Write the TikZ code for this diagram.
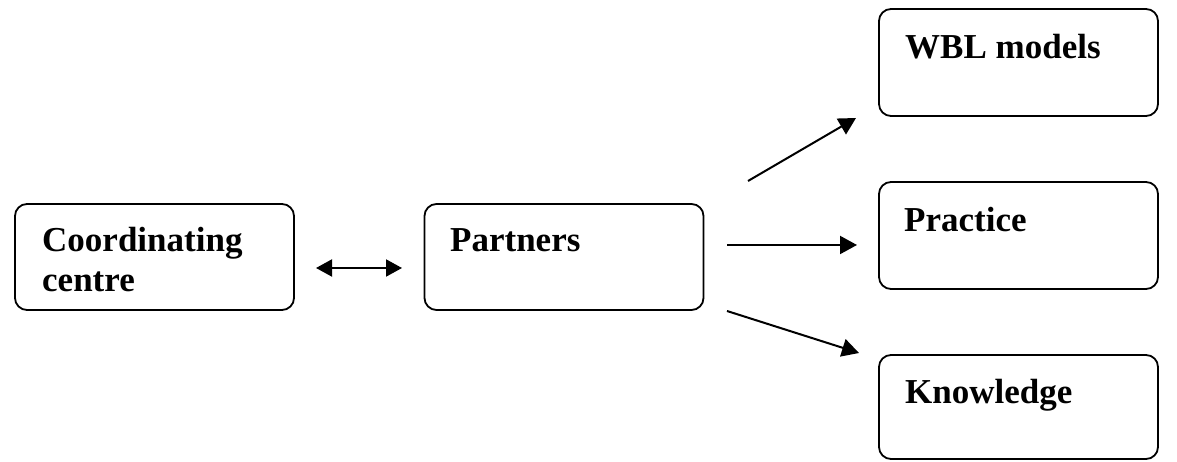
\documentclass[tikz,border=0pt]{standalone}
\usepackage{fontspec}
\setmainfont{Liberation Serif}
\usetikzlibrary{arrows.meta}
\tikzset{
  box/.style={draw, line width=1.8pt, rounded corners=12pt, minimum width=279pt, minimum height=106pt, inner sep=0pt},
  lbl/.style={anchor=base west, inner sep=0pt, font=\fontsize{35}{40}\selectfont\bfseries, align=left},
  arr/.style={line width=2pt, -{Triangle[length=17pt,width=18pt]}},
  darr/.style={line width=2pt, {Triangle[length=16pt,width=17pt]}-{Triangle[length=16pt,width=17pt]}}
}
\begin{document}
\begin{tikzpicture}[x=1pt,y=1pt]
\useasboundingbox (0,0) rectangle (1177,462);
% boxes (y = 462 - image y)
\node[box] (cc) at (154.5,205) {};
\node[box] (pa) at (564,205) {};
\node[box, minimum height=107pt] (wbl) at (1018.5,399.5) {};
\node[box, minimum height=107pt] (pr) at (1018.5,226.5) {};
\node[box, minimum height=104pt] (kn) at (1018.5,55) {};
% labels
\node[lbl] (cct) at (42,170) {Coordinating\\centre};
\node[lbl] (pat) at (450,210) {Partners};
\node[lbl] (wblt) at (905,403) {WBL models};
\node[lbl] (prt) at (904,230) {Practice};
\node[lbl] (knt) at (905,58) {Knowledge};
% connector end points
\coordinate (d1) at (316,194);
\coordinate (d2) at (402,194);
\coordinate (a1s) at (748,281);
\coordinate (a1e) at (856,344);
\coordinate (a2s) at (727,217);
\coordinate (a2e) at (857,217);
\coordinate (a3s) at (727,151);
\coordinate (a3e) at (859,109);
\draw[darr] (d1) -- (d2);
\draw[arr] (a1s) -- (a1e);
\draw[arr] (a2s) -- (a2e);
\draw[arr] (a3s) -- (a3e);
\end{tikzpicture}
\end{document}
